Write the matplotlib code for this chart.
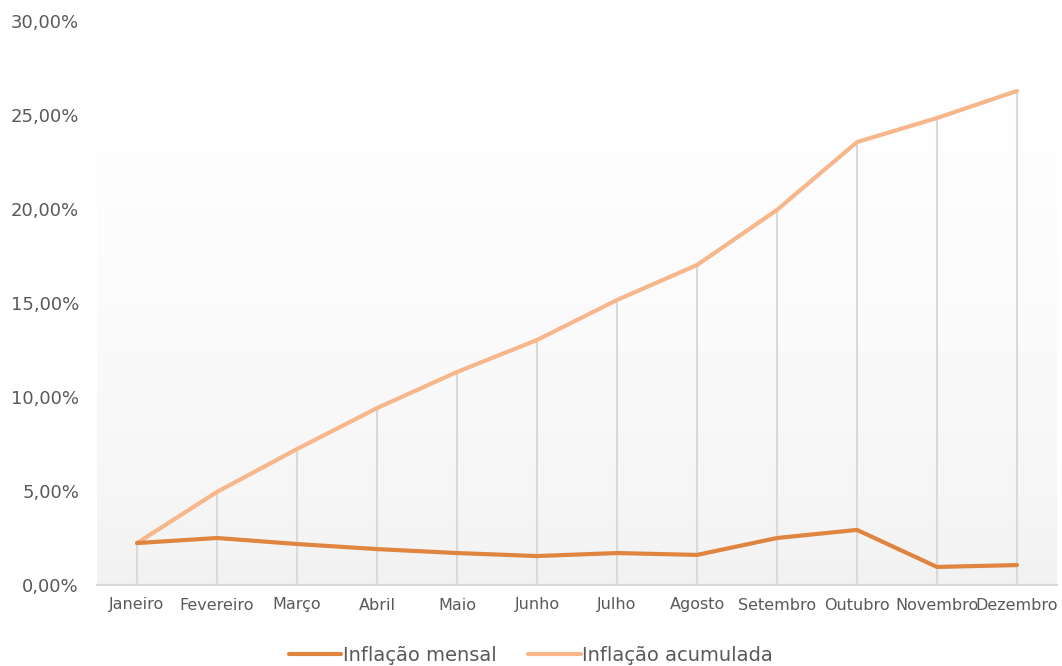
import numpy as np
import matplotlib.pyplot as plt
from matplotlib.colors import LinearSegmentedColormap
from matplotlib.ticker import FuncFormatter

# Dados
meses = ['Janeiro', 'Fevereiro', 'Março', 'Abril', 'Maio', 'Junho', 'Julho',
         'Agosto', 'Setembro', 'Outubro', 'Novembro', 'Dezembro']
inflacao_mensal = [2.23, 2.50, 2.18, 1.91, 1.70, 1.54, 1.70, 1.60, 2.50, 2.93, 0.96, 1.06]
inflacao_acumulada = [2.23, 4.95, 7.23, 9.41, 11.33, 13.03, 15.16, 17.02, 19.95, 23.56, 24.84, 26.28]

cor_mensal = '#E0853F'
cor_acumulada = '#F8B68B'
cor_texto = '#595959'

fig = plt.figure(figsize=(10.62, 6.66), dpi=100)
ax = fig.add_axes([97 / 1062, 1 - 585 / 666, 960 / 1062, 564 / 666])

x = np.arange(len(meses))

# Fundo em degradê (branco em cima, cinza claro embaixo)
cmap = LinearSegmentedColormap.from_list('fundo', ['#f1f1f1', '#ffffff'])
grad = np.linspace(0, 1, 256).reshape(-1, 1) ** 0.6
ax.imshow(grad, aspect='auto', cmap=cmap, origin='lower',
          extent=[0, 1, 0, 0.87], transform=ax.transAxes, zorder=0)

# Linhas de projeção
topo = np.maximum(inflacao_mensal, inflacao_acumulada)
ax.vlines(x, 0, topo, color='#d9d9d9', linewidth=1.5, zorder=1)

ax.plot(x, inflacao_mensal, color=cor_mensal, linewidth=3,
        solid_capstyle='round', label='Inflação mensal', zorder=3)
ax.plot(x, inflacao_acumulada, color=cor_acumulada, linewidth=3,
        solid_capstyle='round', label='Inflação acumulada', zorder=2)

ax.set_xlim(-0.5, len(meses) - 0.5)
ax.set_ylim(0, 30)
ax.set_yticks(np.arange(0, 31, 5))
ax.yaxis.set_major_formatter(FuncFormatter(lambda v, p: f'{v:.2f}%'.replace('.', ',')))
ax.set_xticks(x)
ax.set_xticklabels(meses)

ax.tick_params(axis='both', length=0, colors=cor_texto)
ax.tick_params(axis='y', labelsize=13, pad=13)
ax.tick_params(axis='x', labelsize=11.5, pad=9)

for s in ['top', 'right', 'left']:
    ax.spines[s].set_visible(False)
ax.spines['bottom'].set_color('#d9d9d9')
ax.spines['bottom'].set_linewidth(1.5)

leg = fig.legend(loc='lower center', bbox_to_anchor=(0.5, -0.025), ncol=2,
                 frameon=False, fontsize=14, handlelength=2.7,
                 handletextpad=0.1, columnspacing=1.6)
for t in leg.get_texts():
    t.set_color(cor_texto)

fig.savefig('out.png', dpi=100)
